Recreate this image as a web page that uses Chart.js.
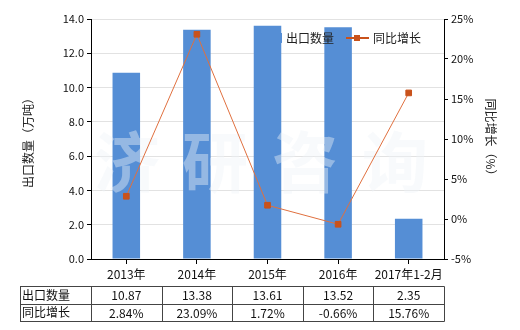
<!DOCTYPE html>
<html>
<head>
<meta charset="utf-8">
<script src="https://cdn.jsdelivr.net/npm/chart.js@4"></script>
<style>
  body { margin: 0; background: #fff; }
  #wrap { width: 520px; height: 330px; }
</style>
</head>
<body>
<div id="wrap"><canvas id="c" width="520" height="330"></canvas></div>
<script>
var years = ['2013年', '2014年', '2015年', '2016年', '2017年1-2月'];
var qty = [10.87, 13.38, 13.61, 13.52, 2.35];
var growth = [2.84, 23.09, 1.72, -0.66, 15.76];
var qtyText = ['10.87', '13.38', '13.61', '13.52', '2.35'];
var growthText = ['2.84%', '23.09%', '1.72%', '-0.66%', '15.76%'];

var FONT = '"Noto Sans CJK SC", "DejaVu Sans", sans-serif';
var BLUE = '#558ed5';
var ORANGE = '#c9521b';

var extras = {
    id: 'extras',
    afterDatasetDraw: function(chart, args) {
        if (args.index !== 0) return;
        // watermark
        var ctx = chart.ctx;
        ctx.save();
        ctx.fillStyle = 'rgba(238,242,248,0.42)';
        ctx.font = 'bold 66px ' + FONT;
        ctx.textAlign = 'center';
        ctx.textBaseline = 'middle';
        var wm = ['济', '研', '咨', '询'];
        var cx = [127, 215, 305, 395];
        for (var i = 0; i < wm.length; i++) {
            ctx.fillText(wm[i], cx[i], 162);
        }
        ctx.restore();
    },
    afterDraw: function(chart) {
        var ctx = chart.ctx;
        var x = chart.scales.x;
        ctx.save();

        // axis titles
        ctx.fillStyle = '#222';
        ctx.font = '12px ' + FONT;
        ctx.textAlign = 'center';
        ctx.textBaseline = 'middle';
        ctx.save();
        ctx.translate(28, 140);
        ctx.rotate(-Math.PI / 2);
        ctx.fillText('出口数量（万吨）', 0, 0);
        ctx.restore();
        ctx.save();
        ctx.translate(491, 140);
        ctx.rotate(Math.PI / 2);
        ctx.fillText('同比增长（%）', 0, 0);
        ctx.restore();

        // legend
        ctx.font = '12px ' + FONT;
        ctx.textAlign = 'left';
        ctx.fillStyle = BLUE;
        ctx.fillRect(272, 33, 10, 10);
        ctx.fillStyle = '#222';
        ctx.fillText('出口数量', 286, 38);
        ctx.strokeStyle = ORANGE;
        ctx.lineWidth = 2;
        ctx.beginPath();
        ctx.moveTo(346, 38);
        ctx.lineTo(369, 38);
        ctx.stroke();
        ctx.fillStyle = ORANGE;
        ctx.fillRect(354, 35, 6, 6);
        ctx.fillStyle = '#222';
        ctx.fillText('同比增长', 373, 38);

        // data table
        var half = (x.getPixelForValue(1) - x.getPixelForValue(0)) / 2;
        var left = 20;
        var colStart = x.getPixelForValue(0) - half;
        var colEnd = x.getPixelForValue(years.length - 1) + half;
        var rows = [286, 303.5, 321];
        ctx.strokeStyle = '#444';
        ctx.lineWidth = 1;
        ctx.beginPath();
        rows.forEach(function(r) {
            ctx.moveTo(left, Math.round(r) + 0.5);
            ctx.lineTo(Math.round(colEnd) + 0.5, Math.round(r) + 0.5);
        });
        var cols = [left, colStart];
        for (var i = 0; i < years.length; i++) {
            cols.push(x.getPixelForValue(i) + half);
        }
        cols.forEach(function(c) {
            ctx.moveTo(Math.round(c) + 0.5, rows[0] + 0.5);
            ctx.lineTo(Math.round(c) + 0.5, rows[2] + 0.5);
        });
        ctx.stroke();

        ctx.fillStyle = '#111';
        ctx.font = '12px ' + FONT;
        ctx.textAlign = 'left';
        ctx.fillText('出口数量', 22, 295);
        ctx.fillText('同比增长', 22, 312);
        ctx.textAlign = 'center';
        for (var j = 0; j < years.length; j++) {
            var px = x.getPixelForValue(j);
            ctx.fillText(qtyText[j], px, 295);
            ctx.fillText(growthText[j], px, 313);
        }
        ctx.restore();
    }
};

var chart = new Chart(document.getElementById('c'), {
    type: 'bar',
    data: {
        labels: years,
        datasets: [
            {
                label: '出口数量',
                data: qty,
                backgroundColor: BLUE,
                yAxisID: 'y',
                order: 2,
                barPercentage: 0.39,
                categoryPercentage: 1
            },
            {
                type: 'line',
                label: '同比增长',
                data: growth,
                yAxisID: 'y1',
                order: 1,
                borderColor: '#e0703f',
                borderWidth: 1,
                pointStyle: 'rect',
                pointRadius: 4,
                pointBackgroundColor: ORANGE,
                pointBorderColor: ORANGE,
                tension: 0
            }
        ]
    },
    options: {
        responsive: false,
        animation: false,
        layout: { padding: { top: 19, left: 0, right: 0, bottom: 0 } },
        plugins: {
            legend: { display: false },
            tooltip: { enabled: false }
        },
        scales: {
            x: {
                offset: true,
                grid: { offset: false, drawOnChartArea: false, tickLength: 5, tickColor: '#000' },
                border: { color: '#000' },
                ticks: { color: '#111', font: { size: 12, family: FONT }, padding: 3, maxRotation: 0, autoSkip: false },
                afterFit: function(s) { s.height = 71; }
            },
            y: {
                position: 'left',
                min: 0,
                max: 14,
                ticks: {
                    stepSize: 2,
                    color: '#111',
                    font: { size: 11, family: FONT },
                    padding: 3,
                    callback: function(v) { return v.toFixed(1); }
                },
                grid: { color: '#e2e2e2', tickColor: '#000', tickLength: 4 },
                border: { color: '#000' },
                afterFit: function(s) { s.width = 91; }
            },
            y1: {
                position: 'right',
                min: -5,
                max: 25,
                ticks: {
                    stepSize: 5,
                    color: '#111',
                    font: { size: 11, family: FONT },
                    padding: 3,
                    callback: function(v) { return v + '%'; }
                },
                grid: { drawOnChartArea: false, tickColor: '#000', tickLength: 4 },
                border: { color: '#000' },
                afterFit: function(s) { s.width = 76; }
            }
        }
    },
    plugins: [extras]
});
</script>
</body>
</html>
